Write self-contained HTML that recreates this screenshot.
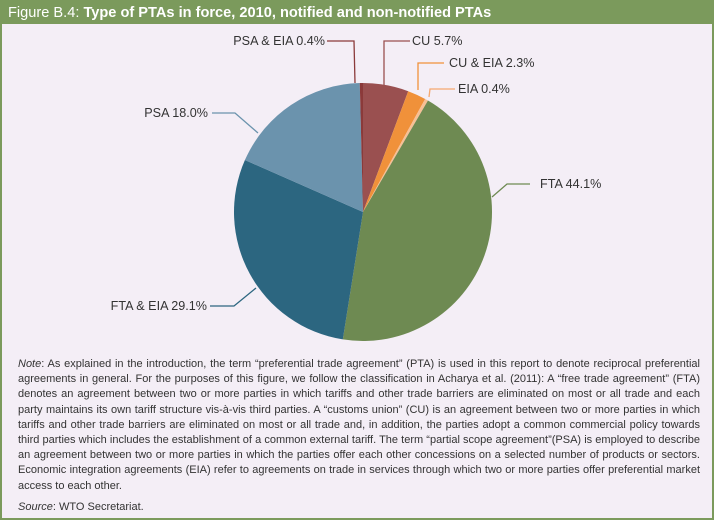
<!DOCTYPE html>
<html><head><meta charset="utf-8"><style>
body{margin:0;width:714px;height:520px;overflow:hidden;background:#fff;}
#f{position:absolute;left:0;top:0;width:710px;height:516px;border:2px solid #7b9a5c;background:#f4eef6;}
#t{position:absolute;left:0;top:0;width:710px;height:22px;background:#7b9a5c;color:#fff;font:14.6px "Liberation Sans",sans-serif;line-height:22px;padding-left:6px;box-sizing:border-box;}
#n{position:absolute;left:16px;top:355px;width:682px;font:11px "Liberation Sans",sans-serif;color:#333;line-height:15.2px;text-align:justify;}
svg{position:absolute;left:0;top:0;}
</style></head><body>
<div id="f">
<div id="t">Figure B.4: <b>Type of PTAs in force, 2010, notified and non-notified PTAs</b></div>
<div id="n"><i>Note</i>: As explained in the introduction, the term “preferential trade agreement” (PTA) is used in this report to denote reciprocal preferential agreements in general. For the purposes of this figure, we follow the classification in Acharya et al. (2011): A “free trade agreement” (FTA) denotes an agreement between two or more parties in which tariffs and other trade barriers are eliminated on most or all trade and each party maintains its own tariff structure vis-à-vis third parties. A “customs union” (CU) is an agreement between two or more parties in which tariffs and other trade barriers are eliminated on most or all trade and, in addition, the parties adopt a common commercial policy towards third parties which includes the establishment of a common external tariff. The term “partial scope agreement”(PSA) is employed to describe an agreement between two or more parties in which the parties offer each other concessions on a selected number of products or sectors. Economic integration agreements (EIA) refer to agreements on trade in services through which two or more parties offer preferential market access to each other.<div style="margin-top:6px"><i>Source</i>: WTO Secretariat.</div></div>
</div>
<svg width="714" height="520" id="s" font-family="Liberation Sans, sans-serif" font-size="12.6" fill="#333">
<g id="p"></g>
<g fill="none" stroke-width="1.3">
<polyline points="327,41 354,41 355,83" stroke="#8b3a3a"/>
<polyline points="410,41 384,41 384,85" stroke="#9a5050"/>
<polyline points="444,63 418,63 418,90" stroke="#f0913a"/>
<polyline points="455,89 430,89 429,97" stroke="#f5a870"/>
<polyline points="212,113 235,113 258,133" stroke="#6b93ad"/>
<polyline points="210,306 234,306 256,288" stroke="#2c6680"/>
<polyline points="530,184 507,184 492,197" stroke="#6e8a52"/>
</g>
<text x="325" y="45" text-anchor="end">PSA &amp; EIA 0.4%</text>
<text x="412" y="45">CU 5.7%</text>
<text x="449" y="67">CU &amp; EIA 2.3%</text>
<text x="458" y="93">EIA 0.4%</text>
<text x="208" y="117" text-anchor="end">PSA 18.0%</text>
<text x="207" y="310" text-anchor="end">FTA &amp; EIA 29.1%</text>
<text x="540" y="188">FTA 44.1%</text>
</svg>
<script>
var d=[[5.7,"#9a5050"],[2.3,"#f0913a"],[0.4,"#f7c095"],[44.1,"#6e8a52"],[29.1,"#2c6680"],[18.0,"#6b93ad"],[0.4,"#8b3a3a"]];
var cx=363,cy=212,r=129,a=0,g=document.getElementById("p"),h="";
function pt(t){var ang=t/100*2*Math.PI;return [cx+r*Math.sin(ang),cy-r*Math.cos(ang)];}
d.forEach(function(s){var p1=pt(a),p2=pt(a+s[0]);var l=s[0]>50?1:0;
h+='<path d="M'+cx+','+cy+'L'+p1[0].toFixed(2)+','+p1[1].toFixed(2)+'A'+r+','+r+' 0 '+l+' 1 '+p2[0].toFixed(2)+','+p2[1].toFixed(2)+'Z" fill="'+s[1]+'"/>';a+=s[0];});
g.innerHTML=h;
</script>
</body></html>
